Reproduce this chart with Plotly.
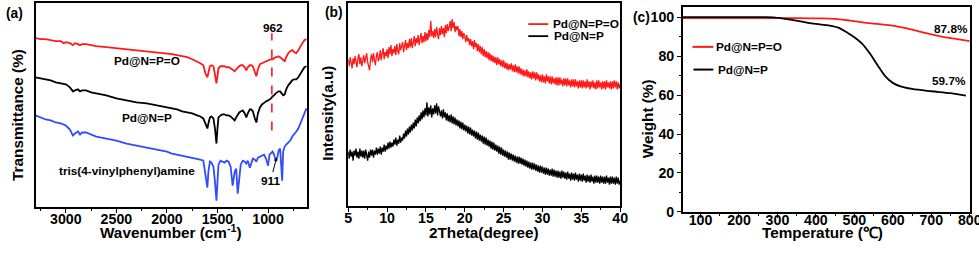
import plotly.graph_objects as go

# ---------------- (a) FTIR ----------------
wavenumber = [3300, 3250, 3200, 3150, 3100, 3050, 3020, 3000, 2960, 2930, 2910, 2880, 2860, 2840,
              2800, 2750, 2700, 2600, 2500, 2400, 2300, 2200, 2100, 2000, 1950, 1900, 1850, 1800,
              1750, 1700, 1670, 1640, 1620, 1600, 1590, 1575, 1560, 1540, 1525, 1510, 1500, 1490,
              1470, 1450, 1430, 1410, 1390, 1370, 1350, 1330, 1315, 1300, 1285, 1270, 1250, 1230,
              1215, 1200, 1180, 1165, 1150, 1130, 1115, 1100, 1080, 1060, 1040, 1020, 1000, 985,
              970, 955, 940, 925, 911, 895, 880, 860, 850, 835, 820, 800, 780, 760, 740, 720,
              700, 680, 660, 640, 620]
ftir_pd_npo = [168, 167, 167, 166, 165, 165, 163, 164, 163, 161, 163, 162, 161, 162,
               162, 161, 160, 159, 158, 157, 156, 155, 154, 153, 152, 151, 150, 149,
               147, 145, 143, 141, 133, 129, 134, 140, 141, 140, 132, 123, 130, 138,
               140, 140, 140, 139, 139, 138, 136, 135, 137, 139, 140, 141, 141, 139,
               136, 139, 141, 141, 140, 134, 130, 137, 142, 143, 144, 145, 146, 146,
               147, 147, 148, 149, 149, 150, 149, 147, 146, 145, 149, 153, 155, 156, 154, 153,
               156, 160, 163, 166, 167]
ftir_pd_np = [129, 128, 127, 126, 124, 123, 122, 122, 119, 115, 116, 117, 115, 116,
              116, 114, 113, 111, 108, 106, 104, 103, 101, 99, 98, 97, 95, 94,
              93, 91, 90, 88, 82, 78, 83, 89, 90, 88, 78, 63, 78, 89,
              91, 92, 92, 91, 91, 90, 88, 86, 89, 92, 94, 95, 96, 93,
              89, 93, 97, 97, 95, 88, 84, 93, 99, 102, 104, 105, 106, 107,
              108, 110, 111, 113, 114, 115, 115, 112, 111, 112, 117, 121, 124, 126, 127, 127,
              129, 132, 136, 139, 140]
ftir_tvpa = [91, 89, 87, 86, 84, 83, 82, 81, 77, 71, 73, 75, 72, 74,
             74, 72, 70, 68, 66, 63, 61, 59, 57, 55, 53, 52, 51, 50,
             49, 48, 47, 46, 30, 19, 35, 45, 44, 40, 25, 6, 25, 42,
             46, 45, 44, 46, 45, 40, 21, 35, 38, 13, 25, 42, 46, 45,
             43, 46, 39, 45, 48, 47, 45, 49, 50, 51, 52, 48, 41, 52,
             54, 55, 52, 46, 48, 56, 58, 26, 55, 60, 62, 64, 66, 70, 72, 75,
             78, 83, 88, 93, 98]

# ---------------- (b) XRD (2-theta from 5 to 40, step 0.125) ----------------
two_theta = [5 + 0.125 * i for i in range(281)]
xrd_pd_npo = [
    146, 139, 148, 142, 137, 147, 141, 149,
    143, 138, 147, 151, 141, 148, 139, 146,
    150, 142, 147, 152, 143, 140, 135, 146,
    151, 143, 152, 145, 140, 149, 153, 144,
    147, 155, 145, 152, 157, 146, 153, 149,
    156, 147, 158, 151, 160, 149, 156, 152,
    159, 150, 161, 154, 151, 162, 155, 159,
    163, 153, 160, 165, 155, 162, 157, 166,
    158, 167, 157, 164, 169, 159, 167, 162,
    170, 160, 167, 172, 162, 169, 163, 173,
    164, 172, 165, 175, 168, 184, 169, 174,
    167, 176, 168, 178, 171, 166, 177, 170,
    179, 171, 177, 168, 180, 172, 181, 174,
    178, 184, 174, 186, 177, 183, 173, 179,
    175, 179, 169, 176, 168, 174, 166, 172,
    169, 163, 170, 164, 167, 160, 166, 159,
    164, 156, 165, 158, 162, 154, 161, 153,
    159, 151, 158, 149, 156, 148, 154, 147,
    153, 145, 152, 144, 150, 143, 149, 142,
    148, 140, 148, 141, 146, 139, 145, 138,
    145, 137, 143, 136, 142, 135, 141, 136,
    142, 134, 140, 133, 141, 133, 139, 132,
    139, 131, 137, 130, 136, 129, 135, 129,
    136, 128, 134, 127, 133, 126, 134, 127,
    133, 125, 133, 126, 131, 124, 130, 123,
    131, 123, 129, 122, 131, 124, 129, 122,
    129, 121, 129, 122, 127, 121, 128, 120,
    128, 120, 128, 121, 126, 119, 127, 120,
    127, 119, 127, 120, 125, 118, 126, 119,
    126, 118, 126, 119, 124, 117, 125, 118,
    125, 117, 125, 118, 124, 117, 126, 118,
    124, 116, 124, 118, 125, 117, 123, 116,
    125, 117, 125, 118, 123, 116, 124, 117,
    124, 116, 125, 118, 123, 117, 124, 116,
    124, 117, 125, 118, 124, 116, 123, 117,
    121]
xrd_pd_np = [
    54, 47, 56, 49, 54, 45, 55, 50,
    57, 48, 54, 47, 57, 49, 55, 48,
    55, 47, 56, 50, 45, 54, 48, 56,
    50, 56, 48, 55, 51, 58, 51, 57,
    52, 59, 51, 58, 54, 61, 54, 60,
    56, 63, 57, 64, 58, 63, 59, 66,
    61, 68, 60, 66, 62, 70, 63, 68,
    65, 72, 67, 75, 69, 77, 71, 79,
    73, 81, 75, 83, 77, 86, 79, 88,
    82, 90, 84, 93, 86, 95, 88, 97,
    90, 103, 89, 98, 91, 100, 88, 97,
    91, 100, 92, 102, 90, 99, 93, 89,
    95, 87, 96, 88, 93, 85, 92, 84,
    90, 83, 91, 82, 89, 81, 88, 80,
    86, 79, 85, 77, 84, 76, 83, 75,
    81, 74, 80, 72, 79, 71, 78, 70,
    76, 69, 75, 67, 74, 66, 73, 65,
    71, 64, 70, 62, 69, 61, 68, 60,
    66, 59, 65, 57, 64, 56, 63, 55,
    61, 54, 60, 52, 59, 51, 58, 50,
    56, 49, 55, 48, 54, 46, 53, 46,
    52, 45, 51, 44, 50, 43, 49, 42,
    49, 42, 48, 41, 47, 40, 46, 39,
    45, 38, 44, 37, 43, 36, 43, 36,
    42, 35, 41, 34, 40, 33, 40, 33,
    39, 32, 38, 31, 38, 31, 37, 30,
    36, 30, 37, 29, 36, 29, 35, 28,
    35, 28, 34, 27, 35, 28, 34, 27,
    33, 26, 34, 27, 32, 25, 33, 26,
    32, 25, 33, 26, 31, 24, 32, 25,
    31, 24, 32, 25, 30, 23, 31, 24,
    30, 23, 31, 24, 29, 22, 30, 23,
    30, 23, 29, 22, 30, 23, 29, 22,
    29, 22, 30, 23, 28, 21, 29, 22,
    29, 22, 28, 21, 29, 22, 28, 21,
    25]

# ---------------- (c) TGA ----------------
temp_pd_npo = [54, 100, 150, 200, 250, 300, 350, 400, 450, 490, 530, 560, 590, 620, 650, 680, 700, 730, 760, 800]
weight_pd_npo = [99.6, 99.6, 99.6, 99.6, 99.6, 99.6, 99.6, 99.5, 99.2, 98.3, 97.2, 96.6, 96.0, 95.0,
                 93.7, 92.2, 91.2, 90.0, 89.1, 87.8]
temp_pd_np = [54, 100, 150, 200, 250, 290, 320, 350, 380, 410, 440, 460, 480, 500, 520, 540, 560,
              580, 600, 620, 650, 700, 750, 790]
weight_pd_np = [100.1, 100.1, 100.1, 100.1, 100.1, 100.0, 99.2, 98.3, 97.2, 96.4, 95.6, 94.6, 92.3,
                89.8, 86.5, 81.5, 75.5, 69.8, 66.3, 64.5, 63.2, 62.0, 61.0, 59.7]

# tick labels
ticks_a = [3000, 2500, 2000, 1500, 1000]
ticks_b = [5, 10, 15, 20, 25, 30, 35, 40]
ticks_c_x = [100, 200, 300, 400, 500, 600, 700, 800]
ticks_c_y = [0, 20, 40, 60, 80, 100]

RED = "#ff1a1a"
BLUE = "#2f4cff"
BLACK = "#000000"
FONT = "Liberation Sans, Arial, sans-serif"
W, H = 979, 254          # target picture size (layout fractions are based on it)
FIG_W, FIG_H = 990, 263  # size of the drawn page area that maps onto the picture


def px(x):
    return x / W


def py(y):
    return 1 - y / H


def bold(vals):
    return ["<b>%s</b>" % v for v in vals]


fig = go.Figure()
fig.add_trace(go.Scatter(x=wavenumber, y=ftir_pd_npo, mode="lines", line=dict(color=RED, width=1.8),
                         xaxis="x", yaxis="y", showlegend=False))
fig.add_trace(go.Scatter(x=wavenumber, y=ftir_pd_np, mode="lines", line=dict(color=BLACK, width=1.8),
                         xaxis="x", yaxis="y", showlegend=False))
fig.add_trace(go.Scatter(x=wavenumber, y=ftir_tvpa, mode="lines", line=dict(color=BLUE, width=1.8),
                         xaxis="x", yaxis="y", showlegend=False))
fig.add_trace(go.Scatter(x=two_theta, y=xrd_pd_npo, mode="lines", line=dict(color=RED, width=1.3),
                         xaxis="x2", yaxis="y2", showlegend=False))
fig.add_trace(go.Scatter(x=two_theta, y=xrd_pd_np, mode="lines", line=dict(color=BLACK, width=1.3),
                         xaxis="x2", yaxis="y2", showlegend=False))
fig.add_trace(go.Scatter(x=temp_pd_npo, y=weight_pd_npo, mode="lines", line=dict(color=RED, width=1.8, shape="spline"),
                         xaxis="x3", yaxis="y3", showlegend=False))
fig.add_trace(go.Scatter(x=temp_pd_np, y=weight_pd_np, mode="lines", line=dict(color=BLACK, width=1.8, shape="spline"),
                         xaxis="x3", yaxis="y3", showlegend=False))

tickfont = dict(family=FONT, size=14.2, color="black", weight="bold")
axis_common = dict(showline=True, linecolor="black", linewidth=1.5, mirror=True, showgrid=False,
                   zeroline=False, tickfont=tickfont, ticks="outside", ticklen=4, tickwidth=1.2,
                   tickcolor="black")
noy = dict(showline=True, linecolor="black", linewidth=1.5, mirror=True, showgrid=False,
           zeroline=False, showticklabels=False, ticks="")

fig.update_layout(
    width=FIG_W, height=FIG_H, margin=dict(l=0, r=0, t=0, b=0),
    paper_bgcolor="white", plot_bgcolor="white",
    xaxis=dict(domain=[px(31.7), px(305)], range=[3300, 610], tickvals=ticks_a, ticktext=bold(ticks_a),
               ticklabelstandoff=-6,
               minor=dict(ticks="outside", ticklen=2.5, dtick=250, tickcolor="black"), anchor="y", **axis_common),
    yaxis=dict(domain=[py(206), py(3)], range=[0, 203], anchor="x", **noy),
    xaxis2=dict(domain=[px(346), px(619.3)], range=[5, 40], tickvals=ticks_b, ticktext=bold(ticks_b),
                ticklabelstandoff=-6,
                minor=dict(ticks="outside", ticklen=2.5, dtick=2.5, tickcolor="black"), anchor="y2", **axis_common),
    yaxis2=dict(domain=[py(205), py(3)], range=[0, 202], anchor="x2", **noy),
    xaxis3=dict(domain=[px(682.3), px(970.7)], range=[54, 800], tickvals=ticks_c_x, ticktext=bold(ticks_c_x),
                ticklabelstandoff=-10,
                minor=dict(ticks="outside", ticklen=2.5, dtick=50, tickcolor="black"), anchor="y3", **axis_common),
    yaxis3=dict(domain=[py(211), py(7)], range=[0, 105.3], tickvals=ticks_c_y, ticktext=bold(ticks_c_y),
                minor=dict(ticks="outside", ticklen=2.5, dtick=10, tickcolor="black"), anchor="x3", **axis_common),
)


def txt(x, y, s, size=11.8, angle=0, xanchor="center", color="black"):
    fig.add_annotation(x=px(x), y=py(y), xref="paper", yref="paper", text="<b>%s</b>" % s, showarrow=False,
                       textangle=angle, xanchor=xanchor, yanchor="middle",
                       font=dict(family=FONT, size=size, color=color))


# panel labels
txt(11, 13.5, "(a)", 13.8)
txt(332, 12, "(b)", 13.8)
txt(641, 17, "(c)", 13.8)
# axis titles
txt(168, 231, "Wavenumber (cm<sup>-1</sup>)", 15.3)
txt(13.5, 114, "Transmittance (%)", 15.3, angle=-90)
txt(482, 232, "2Theta(degree)", 15.3)
txt(325, 113, "Intensity(a.u)", 15.3, angle=-90)
txt(823, 232, "Temperature (℃)", 15.3)
txt(647, 118, "Weight (%)", 15.3, angle=-90)
# panel (a) labels
txt(144, 61, "Pd@N=P=O")
txt(144, 118, "Pd@N=P")
txt(123.5, 170, "tris(4-vinylphenyl)amine")
txt(270, 28, "962")
fig.add_annotation(x=px(274), y=py(157), xref="paper", yref="paper", text="<b>911</b>", showarrow=True,
                   ax=-6, ay=23, arrowhead=2, arrowsize=0.7, arrowwidth=1, arrowcolor="black", standoff=0,
                   font=dict(family=FONT, size=11.8, color="black"))
fig.add_shape(type="line", xref="x", yref="y", x0=962, x1=962, y0=76, y1=173,
              line=dict(color=RED, width=1.6, dash="dash"))
# panel (b) legend
fig.add_shape(type="line", xref="paper", yref="paper", x0=px(527), x1=px(547), y0=py(24), y1=py(24),
              line=dict(color=RED, width=1.8))
fig.add_shape(type="line", xref="paper", yref="paper", x0=px(527), x1=px(547), y0=py(36), y1=py(36),
              line=dict(color=BLACK, width=1.8))
txt(550, 24, "Pd@N=P=O", xanchor="left")
txt(551, 36, "Pd@N=P", xanchor="left")
# panel (c) legend
fig.add_shape(type="line", xref="paper", yref="paper", x0=px(692), x1=px(713), y0=py(46.7), y1=py(46.7),
              line=dict(color=RED, width=2))
fig.add_shape(type="line", xref="paper", yref="paper", x0=px(693), x1=px(713), y0=py(69.3), y1=py(69.3),
              line=dict(color=BLACK, width=2))
txt(714, 46.7, "Pd@N=P=O", xanchor="left")
txt(716, 69.3, "Pd@N=P", xanchor="left")
txt(952, 29.3, "87.8%")
txt(950, 81, "59.7%")

fig.write_html("out.html", config={"displayModeBar": False},
               post_script="document.body.style.margin='0px';document.body.style.overflow='hidden';")
